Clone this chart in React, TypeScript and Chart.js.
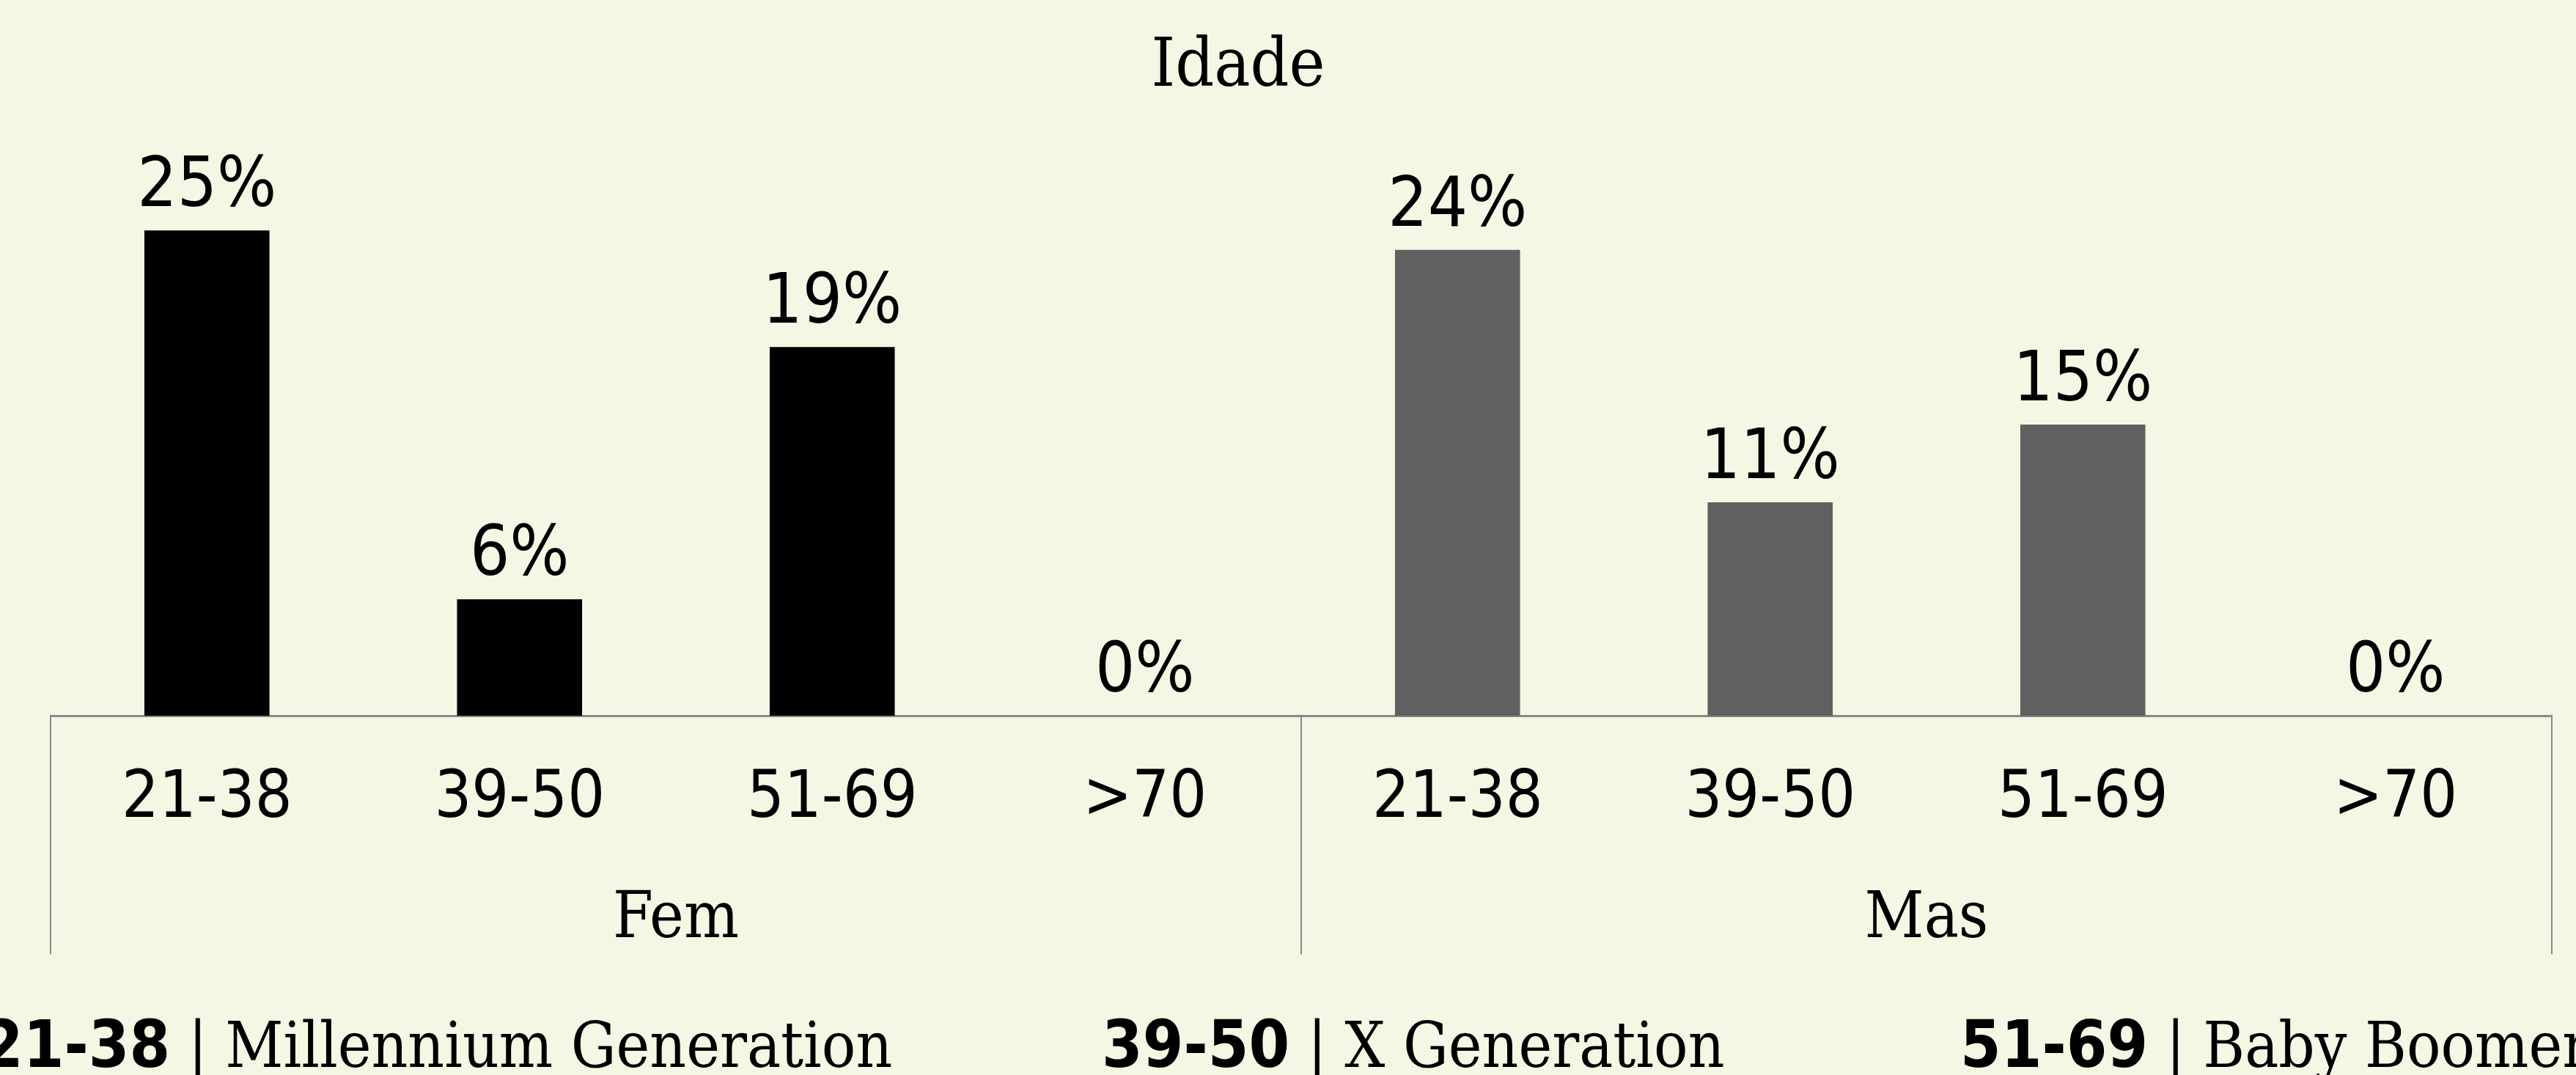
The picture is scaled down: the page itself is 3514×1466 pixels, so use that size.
import React, { useEffect, useRef } from 'react';
import { Chart, registerables } from 'chart.js';

Chart.register(...registerables);

// ---- data ----
const CATEGORIES = ['21-38', '39-50', '51-69', '>70', '21-38', '39-50', '51-69', '>70'];
const GROUPS = ['Fem', 'Mas'];
const GROUP_SIZE = 4;
const VALUES = [25, 6, 19, 0, 24, 11, 15, 0];
const TITLE = 'Idade';
const LEGEND_RANGES = ['21-38', '39-50', '51-69'];
const LEGEND_NAMES = ['Millennium Generation', 'X Generation', 'Baby Boomer'];

// ---- styles ----
const BG = '#F3F8E4';
const FEM_COLOR = '#000000';
const MAS_COLOR = '#606060';
const AXIS_COLOR = '#898989';
const SANS = '"DejaVu Sans Condensed", "DejaVu Sans", sans-serif';
const SERIF = '"DejaVu Serif Condensed", "DejaVu Serif", serif';

const W = 3514;
const H = 1466;

const decorPlugin = {
  id: 'decor',
  beforeDraw(chart: any) {
    const { ctx } = chart;
    ctx.save();
    ctx.fillStyle = BG;
    ctx.fillRect(0, 0, chart.width, chart.height);
    ctx.restore();
  },
  afterDraw(chart: any) {
    const { ctx, chartArea } = chart;
    const xs = chart.scales.x;
    ctx.save();

    // title
    ctx.fillStyle = '#000';
    ctx.font = `92px ${SERIF}`;
    ctx.textAlign = 'center';
    ctx.textBaseline = 'alphabetic';
    ctx.fillText(TITLE, 1689, 117);

    // data labels
    const meta = chart.getDatasetMeta(0);
    ctx.font = `95px ${SANS}`;
    meta.data.forEach((el: any, i: number) => {
      ctx.fillText(`${VALUES[i]}%`, el.x, el.y - 33);
    });

    // group separators
    const bottom = chartArea.bottom;
    const lineEnd = bottom + 325;
    const seps: number[] = [chartArea.left];
    for (let g = 1; g < GROUPS.length; g++) {
      const a = xs.getPixelForValue(g * GROUP_SIZE - 1);
      const b = xs.getPixelForValue(g * GROUP_SIZE);
      seps.push((a + b) / 2);
    }
    seps.push(chartArea.right);
    ctx.strokeStyle = AXIS_COLOR;
    ctx.lineWidth = 2;
    seps.forEach((x) => {
      ctx.beginPath();
      ctx.moveTo(Math.round(x), bottom);
      ctx.lineTo(Math.round(x), lineEnd);
      ctx.stroke();
    });

    // group labels
    ctx.font = `88px ${SERIF}`;
    ctx.fillStyle = '#000';
    GROUPS.forEach((g, gi) => {
      const cx = (seps[gi] + seps[gi + 1]) / 2;
      ctx.fillText(g, cx, bottom + 302);
    });

    // bottom legend
    const legendX = [-24, 1503, 2674];
    const legendY = 1455;
    ctx.textAlign = 'left';
    LEGEND_RANGES.forEach((r, i) => {
      let x = legendX[i];
      ctx.font = `bold 89px ${SANS}`;
      ctx.fillText(r, x, legendY);
      x += ctx.measureText(r).width;
      ctx.font = `86px ${SERIF}`;
      const sep = ' | ';
      ctx.fillText(sep, x, legendY);
      x += ctx.measureText(sep).width;
      ctx.fillText(LEGEND_NAMES[i], x, legendY);
    });

    ctx.restore();
  },
};

export default function App() {
  const ref = useRef<HTMLCanvasElement | null>(null);

  useEffect(() => {
    if (!ref.current) return;
    const colors = VALUES.map((_, i) => (Math.floor(i / GROUP_SIZE) === 0 ? FEM_COLOR : MAS_COLOR));
    const chart = new Chart(ref.current, {
      type: 'bar',
      data: {
        labels: CATEGORIES,
        datasets: [
          {
            data: VALUES,
            backgroundColor: colors,
            borderWidth: 0,
            categoryPercentage: 1,
            barPercentage: 0.4,
          },
        ],
      },
      options: {
        animation: false,
        responsive: false,
        maintainAspectRatio: false,
        layout: { padding: { left: 69, right: 33, top: 182, bottom: 261 } },
        plugins: {
          legend: { display: false },
          title: { display: false },
          tooltip: { enabled: false },
        },
        scales: {
          x: {
            offset: true,
            grid: { display: true, drawOnChartArea: false, drawTicks: false, tickLength: 0 },
            border: { display: true, color: AXIS_COLOR, width: 3 },
            ticks: {
              color: '#000',
              font: { family: SANS, size: 89, lineHeight: 1.2 },
              padding: 61,
              maxRotation: 0,
              minRotation: 0,
              autoSkip: false,
            },
          },
          y: {
            display: false,
            min: 0,
            max: 30,
          },
        },
      },
      plugins: [decorPlugin],
    });
    return () => chart.destroy();
  }, []);

  return (
    <div style={{ position: 'fixed', left: 0, top: 0, width: W, height: H, background: BG }}>
      <canvas ref={ref} width={W} height={H} style={{ width: W, height: H, display: 'block' }} />
    </div>
  );
}
